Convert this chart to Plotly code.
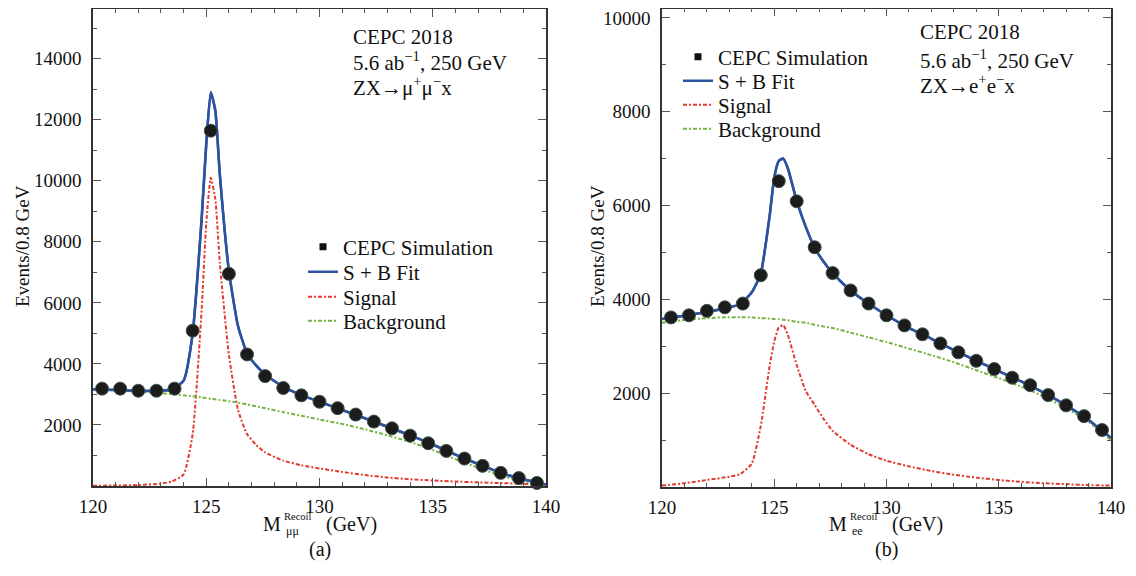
import plotly.graph_objects as go

# ---------------- data: left panel (mu mu) ----------------
bins = [120.4, 121.2, 122.0, 122.8, 123.6, 124.4, 125.2, 126.0, 126.8, 127.6,
        128.4, 129.2, 130.0, 130.8, 131.6, 132.4, 133.2, 134.0, 134.8, 135.6,
        136.4, 137.2, 138.0, 138.8, 139.6]
pts_mm = [3190, 3190, 3120, 3120, 3190, 5090, 11640, 6950, 4310, 3600,
          3210, 2970, 2760, 2550, 2340, 2110, 1890, 1650, 1400, 1150,
          900, 660, 430, 260, 100]

curve_x = [120, 121, 122, 123, 123.5, 124, 124.4, 124.8, 125.0, 125.2, 125.4,
           125.6, 126.0, 126.4, 126.8, 127.2, 127.6, 128.4, 129.2, 130, 131,
           132, 133, 134, 135, 136, 137, 138, 139, 140]
fit_mm = [3170, 3145, 3120, 3120, 3170, 3450, 5000, 8800, 11200, 12900, 12300,
          10200, 7050, 5250, 4350, 3950, 3650, 3250, 2980, 2760, 2490,
          2220, 1940, 1660, 1360, 1025, 720, 430, 220, 50]
sig_mm = [10, 15, 30, 80, 150, 380, 1700, 5800, 8600, 10100, 9400,
          7300, 4300, 2500, 1700, 1350, 1100, 830, 680, 575, 460,
          360, 280, 220, 180, 145, 120, 95, 70, 50]
bg_mm = [3160, 3130, 3090, 3040, 3010, 2970, 2940, 2900, 2880, 2860, 2840,
         2820, 2780, 2730, 2670, 2610, 2550, 2420, 2300, 2180, 2030,
         1860, 1660, 1440, 1180, 880, 600, 340, 150, 0]

# ---------------- data: right panel (e e) ----------------
pts_ee = [3615, 3660, 3755, 3830, 3910, 4515, 6520, 6090, 5110, 4560,
          4190, 3910, 3660, 3445, 3255, 3060, 2870, 2690, 2515, 2330,
          2170, 1960, 1740, 1510, 1215]
fit_ee = [3580, 3650, 3730, 3830, 3900, 4150, 4550, 5800, 6600, 6950, 7000,
          6800, 6100, 5550, 5100, 4800, 4560, 4190, 3910, 3660, 3390,
          3160, 2920, 2690, 2470, 2250, 2010, 1740, 1430, 1050]
sig_ee = [30, 80, 150, 220, 280, 500, 1300, 2600, 3100, 3400, 3450,
          3250, 2600, 2050, 1750, 1450, 1200, 900, 700, 560, 440,
          340, 260, 200, 150, 110, 80, 60, 40, 30]
bg_ee = [3500, 3560, 3600, 3620, 3620, 3615, 3600, 3590, 3580, 3575, 3565,
         3555, 3520, 3500, 3460, 3420, 3390, 3290, 3190, 3090, 2950,
         2810, 2660, 2490, 2320, 2140, 1930, 1680, 1390, 1000]

x_ticks = [120, 125, 130, 135, 140]
y_ticks_mm = [2000, 4000, 6000, 8000, 10000, 12000, 14000]
y_ticks_ee = [2000, 4000, 6000, 8000, 10000]

FONT = "Times New Roman, Liberation Serif, serif"
BLUE = "#2c52a0"
RED = "#e23b2e"
GREEN = "#76b443"

# the page body adds an 8 px margin, so the figure is 8 px smaller each way
OFF = 8
W, H = 1136 - OFF, 576 - OFF


def fx(px):
    return (px - OFF) / W


def fy(py):
    return 1 - (py - OFF) / H


fig = go.Figure()

LEG_L = [("legend", 247), ("legend2", 272), ("legend3", 297), ("legend4", 321)]
LEG_R = [("legend5", 57), ("legend6", 81), ("legend7", 105), ("legend8", 129)]


def add_panel(xa, ya, legs, pts, fit, sig, bg):
    fig.add_trace(go.Scatter(x=[None], y=[None], mode="markers", xaxis=xa, yaxis=ya,
                             marker=dict(color="#111111", size=7, symbol="square"),
                             name="CEPC Simulation", legend=legs[0][0]))
    fig.add_trace(go.Scatter(x=curve_x, y=fit, mode="lines", xaxis=xa, yaxis=ya,
                             line=dict(color=BLUE, width=2.5, shape="spline",
                                       smoothing=0.5),
                             name="S + B Fit", legend=legs[1][0]))
    fig.add_trace(go.Scatter(x=curve_x, y=sig, mode="lines", xaxis=xa, yaxis=ya,
                             line=dict(color=RED, width=2, dash="4px,2px,2px,2px",
                                       shape="spline", smoothing=0.5),
                             name="Signal", legend=legs[2][0]))
    fig.add_trace(go.Scatter(x=curve_x, y=bg, mode="lines", xaxis=xa, yaxis=ya,
                             line=dict(color=GREEN, width=2, dash="4px,2px,2px,2px",
                                       shape="spline", smoothing=0.5),
                             name="Background", legend=legs[3][0]))
    # blue fit drawn again on top of the background curve
    fig.add_trace(go.Scatter(x=curve_x, y=fit, mode="lines", xaxis=xa, yaxis=ya,
                             line=dict(color=BLUE, width=2.5, shape="spline",
                                       smoothing=0.5),
                             showlegend=False, hoverinfo="skip"))
    fig.add_trace(go.Scatter(x=bins, y=pts, mode="markers", xaxis=xa, yaxis=ya,
                             marker=dict(color="#1c1c1c", size=13,
                                         line=dict(color="#3d5550", width=1)),
                             showlegend=False, cliponaxis=False))


add_panel("x", "y", LEG_L, pts_mm, fit_mm, sig_mm, bg_mm)
add_panel("x2", "y2", LEG_R, pts_ee, fit_ee, sig_ee, bg_ee)

L1, R1, T1, B1 = 93, 546, 8.8, 486
L2, R2, T2, B2 = 662, 1111, 8.5, 487
YTOP_MM = (B1 - T1) / (486 - 6) * 15725
YTOP_EE = 10200

axis_common = dict(showline=True, mirror="ticks", linecolor="#333333", linewidth=1.5,
                   ticks="inside", ticklen=8, tickcolor="#555555", tickwidth=1.2,
                   showgrid=False, zeroline=False, tickformat="d",
                   ticklabeloverflow="allow", automargin=False,
                   tickfont=dict(family=FONT, size=19, color="#111111"))
xminor = dict(ticks="inside", ticklen=4, dtick=1, tick0=120, tickcolor="#555555")
yminor = dict(ticks="inside", ticklen=4, dtick=1000, tick0=0, tickcolor="#555555")

layout = dict(
    template="none",
    width=W, height=H, autosize=False,
    margin=dict(l=0, r=0, t=0, b=0, pad=0, autoexpand=False),
    paper_bgcolor="white", plot_bgcolor="white",
    font=dict(family=FONT, color="#111111"),
    showlegend=True,
    xaxis=dict(domain=[fx(L1), fx(R1)], anchor="y", range=[120, 140],
               tickvals=x_ticks, minor=xminor, ticklabelstandoff=2, **axis_common),
    yaxis=dict(domain=[fy(B1), fy(T1)], anchor="x", range=[0, YTOP_MM],
               tickvals=y_ticks_mm, minor=yminor, ticklabelstandoff=6, **axis_common),
    xaxis2=dict(domain=[fx(L2), fx(R2)], anchor="y2", range=[120, 140],
                tickvals=x_ticks, minor=xminor, ticklabelstandoff=2, **axis_common),
    yaxis2=dict(domain=[fy(B2), fy(T2)], anchor="x2", range=[0, YTOP_EE],
                tickvals=y_ticks_ee, minor=yminor, ticklabelstandoff=6, **axis_common),
)
for legs, xleft in ((LEG_L, 303), (LEG_R, 678)):
    for name, ypos in legs:
        layout[name] = dict(x=fx(xleft), y=fy(ypos), xanchor="left", yanchor="middle",
                            bgcolor="rgba(0,0,0,0)", borderwidth=0, itemwidth=30,
                            font=dict(family=FONT, size=21, color="#111111"))
fig.update_layout(**layout)


def ann(x, y, text, size=21, xanchor="left", angle=0):
    fig.add_annotation(x=fx(x), y=fy(y), xref="paper", yref="paper", text=text,
                       showarrow=False, xanchor=xanchor, yanchor="middle",
                       textangle=angle, borderpad=0,
                       font=dict(family=FONT, size=size, color="#111111"))


# info text
ann(352, 37, "CEPC 2018")
ann(352, 61, "5.6 ab<sup>−1</sup>, 250 GeV")
ann(352, 86, "ZX→μ<sup>+</sup>μ<sup>−</sup>x")
ann(919, 32, "CEPC 2018")
ann(919, 59, "5.6 ab<sup>−1</sup>, 250 GeV")
ann(919, 84, "ZX→e<sup>+</sup>e<sup>−</sup>x")

# y titles
ann(22, 246, "Events/0.8 GeV", size=19, xanchor="center", angle=-90)
ann(597, 246, "Events/0.8 GeV", size=19, xanchor="center", angle=-90)

# x titles (stacked super/subscript)
for off, sub in ((0, "μμ"), (566, "ee")):
    ann(282 + off, 524, "M", size=20, xanchor="right")
    ann(283 + off, 516, "Recoil", size=10.5)
    ann(285 + off, 531, sub, size=12)
    ann(325 + off, 524, "(GeV)", size=20)

ann(320, 549, "(a)", size=20, xanchor="center")
ann(886, 549, "(b)", size=20, xanchor="center")

fig.write_html("out.html")
